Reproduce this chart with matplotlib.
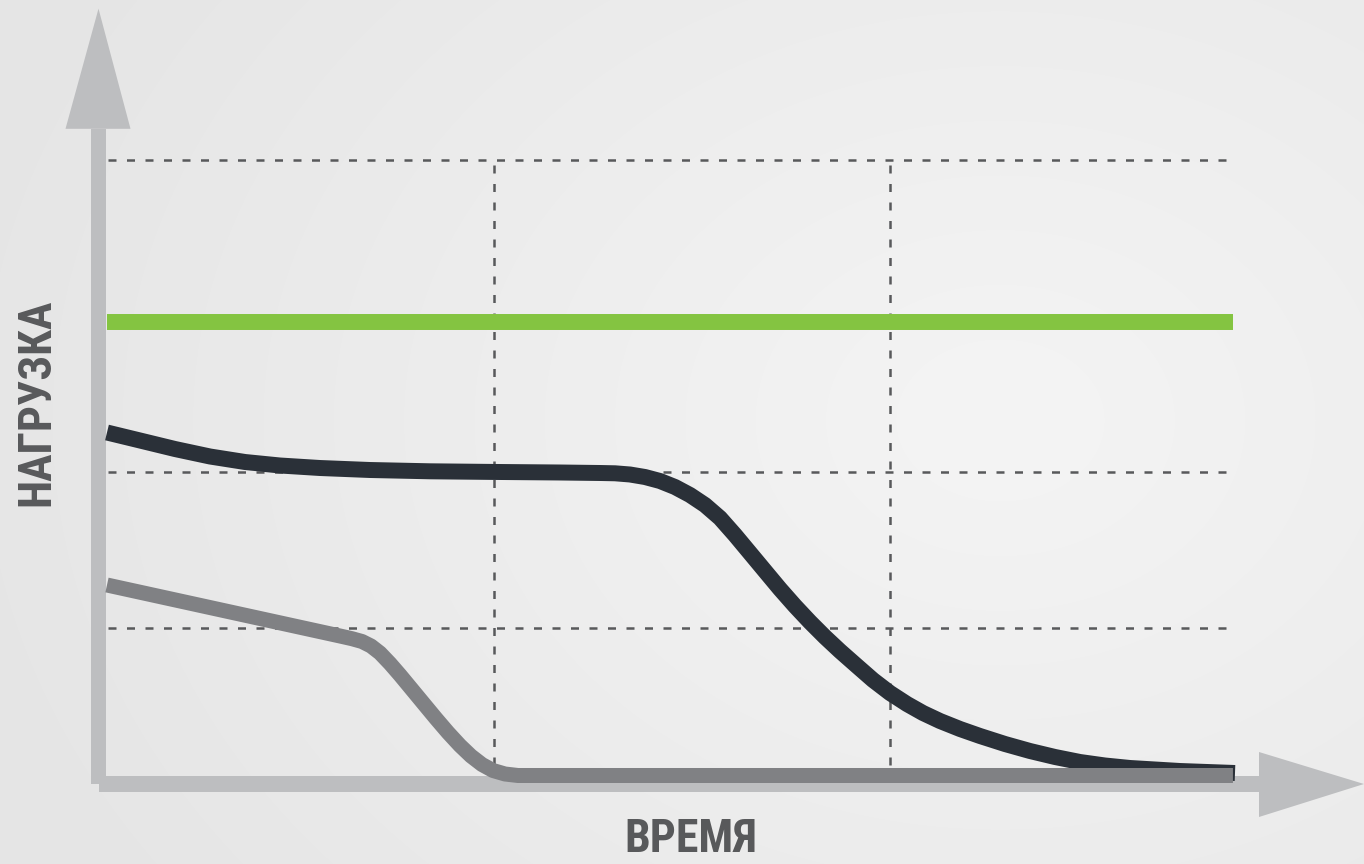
import numpy as np
import matplotlib
matplotlib.use("Agg")
import matplotlib.pyplot as plt
from matplotlib.patches import Polygon, Rectangle

# time axis: grid at 1 and 2, load axis: grid at 1, 2, 4
time_dark = [0.0227, 0.1061, 0.1944, 0.2828, 0.3712, 0.4596, 0.5606, 0.6869, 0.8384, 1.0152,
             1.1667, 1.2677, 1.3056, 1.3434, 1.3813, 1.4192, 1.4571, 1.4949, 1.5328, 1.5707,
             1.6086, 1.6465, 1.6843, 1.7222, 1.7601, 1.7980, 1.8359, 1.8737, 1.9167, 1.9571,
             2.0000, 2.0429, 2.0833, 2.1263, 2.1768, 2.2273, 2.2904, 2.3535, 2.4167, 2.4798,
             2.5429, 2.6061, 2.7323, 2.8712]
load_dark = [2.2532, 2.2019, 2.1474, 2.0994, 2.0641, 2.0417, 2.0256, 2.0128, 2.0045, 2.0000,
             1.9968, 1.9936, 1.9917, 1.9840, 1.9679, 1.9423, 1.9038, 1.8526, 1.7885, 1.7051,
             1.5962, 1.4808, 1.3654, 1.2500, 1.1410, 1.0385, 0.9423, 0.8526, 0.7564, 0.6667,
             0.5833, 0.5128, 0.4551, 0.4038, 0.3526, 0.3077, 0.2564, 0.2115, 0.1731, 0.1410,
             0.1186, 0.1026, 0.0833, 0.0705]

time_gray = [0.0227, 0.6111, 0.6414, 0.6667, 0.6894, 0.7121, 0.7374, 0.7626, 0.7929, 0.8232,
             0.8535, 0.8838, 0.9141, 0.9419, 0.9697, 0.9975, 1.0278, 1.0606, 2.8660]
load_gray = [1.2756, 0.9487, 0.9314, 0.9135, 0.8846, 0.8397, 0.7724, 0.6987, 0.6058, 0.5128,
             0.4199, 0.3301, 0.2468, 0.1795, 0.1250, 0.0865, 0.0641, 0.0545, 0.0545]

time_green = [0.023, 2.866]
load_green = [2.96, 2.96]

grid_time = [1, 2]
grid_load = [1, 2, 4]

AXIS = '#bdbec0'
DARK = '#2a3038'
GRAY = '#808184'
GREEN = '#84c441'
TEXT = '#58595b'

fig = plt.figure(figsize=(13.64, 8.64), dpi=100)

# soft radial background
bg = fig.add_axes([0, 0, 1, 1])
yy, xx = np.mgrid[0:864, 0:1364]
r = np.sqrt(((xx - 1000) / 900.0) ** 2 + ((yy - 420) / 700.0) ** 2)
shade = 0.955 - 0.05 * np.clip(r, 0, 1.2)
bg.imshow(shade, cmap='gray', vmin=0, vmax=1, aspect='auto', extent=[0, 1, 0, 1])
bg.set_axis_off()

ax = fig.add_axes([0, 0, 1, 1])
ax.patch.set_alpha(0)
ax.set_xlim(-98 / 396, (1364 - 98) / 396)
ax.set_ylim(-80 / 156, 784 / 156)
ax.set_axis_off()

# arrows of the axes
px, py = 1 / 396, 1 / 156
ax.add_patch(Rectangle((-7.5 * px, 0.0), 15 * px, 4.2, color=AXIS, lw=0, zorder=1))
ax.add_patch(Polygon([(-32.5 * px, 4.2), (32.5 * px, 4.2), (0.5 * px, 4.97)],
                     color=AXIS, lw=0, zorder=1))
ax.add_patch(Rectangle((1 * px, -8 * py), 1160 * px, 16 * py, color=AXIS, lw=0, zorder=1))
ax.add_patch(Polygon([(1161 * px, 32 * py), (1161 * px, -33 * py), (1266 * px, 0)],
                     color=AXIS, lw=0, zorder=1))

# dashed grid
for g in grid_load:
    ax.plot([0.025, 2.854], [g, g], color=TEXT, lw=1.8, dashes=(3.2, 4.2), zorder=2)
for g in grid_time:
    ax.plot([g, g], [0.12, 4], color=TEXT, lw=1.8, dashes=(3.2, 4.2), zorder=2)

ax.plot(time_green, load_green, color=GREEN, lw=11.5, solid_capstyle='butt', zorder=3)
ax.plot(time_dark, load_dark, color=DARK, lw=11.5, solid_capstyle='butt',
        solid_joinstyle='round', zorder=4)
ax.plot(time_gray, load_gray, color=GRAY, lw=10.8, solid_capstyle='butt',
        solid_joinstyle='round', zorder=5)

font = ['Roboto Condensed', 'Liberation Sans Narrow', 'DejaVu Sans']
fig.text(36 / 1364, 1 - 402 / 864, 'НАГРУЗКА', rotation=90, ha='center', va='center',
         fontsize=33, fontweight='bold', fontstretch='condensed', color=TEXT, family=font)
fig.text(691 / 1364, 1 - 839 / 864, 'ВРЕМЯ', ha='center', va='center',
         fontsize=33, fontweight='bold', fontstretch='condensed', color=TEXT, family=font)

fig.savefig('out.png', dpi=100)
